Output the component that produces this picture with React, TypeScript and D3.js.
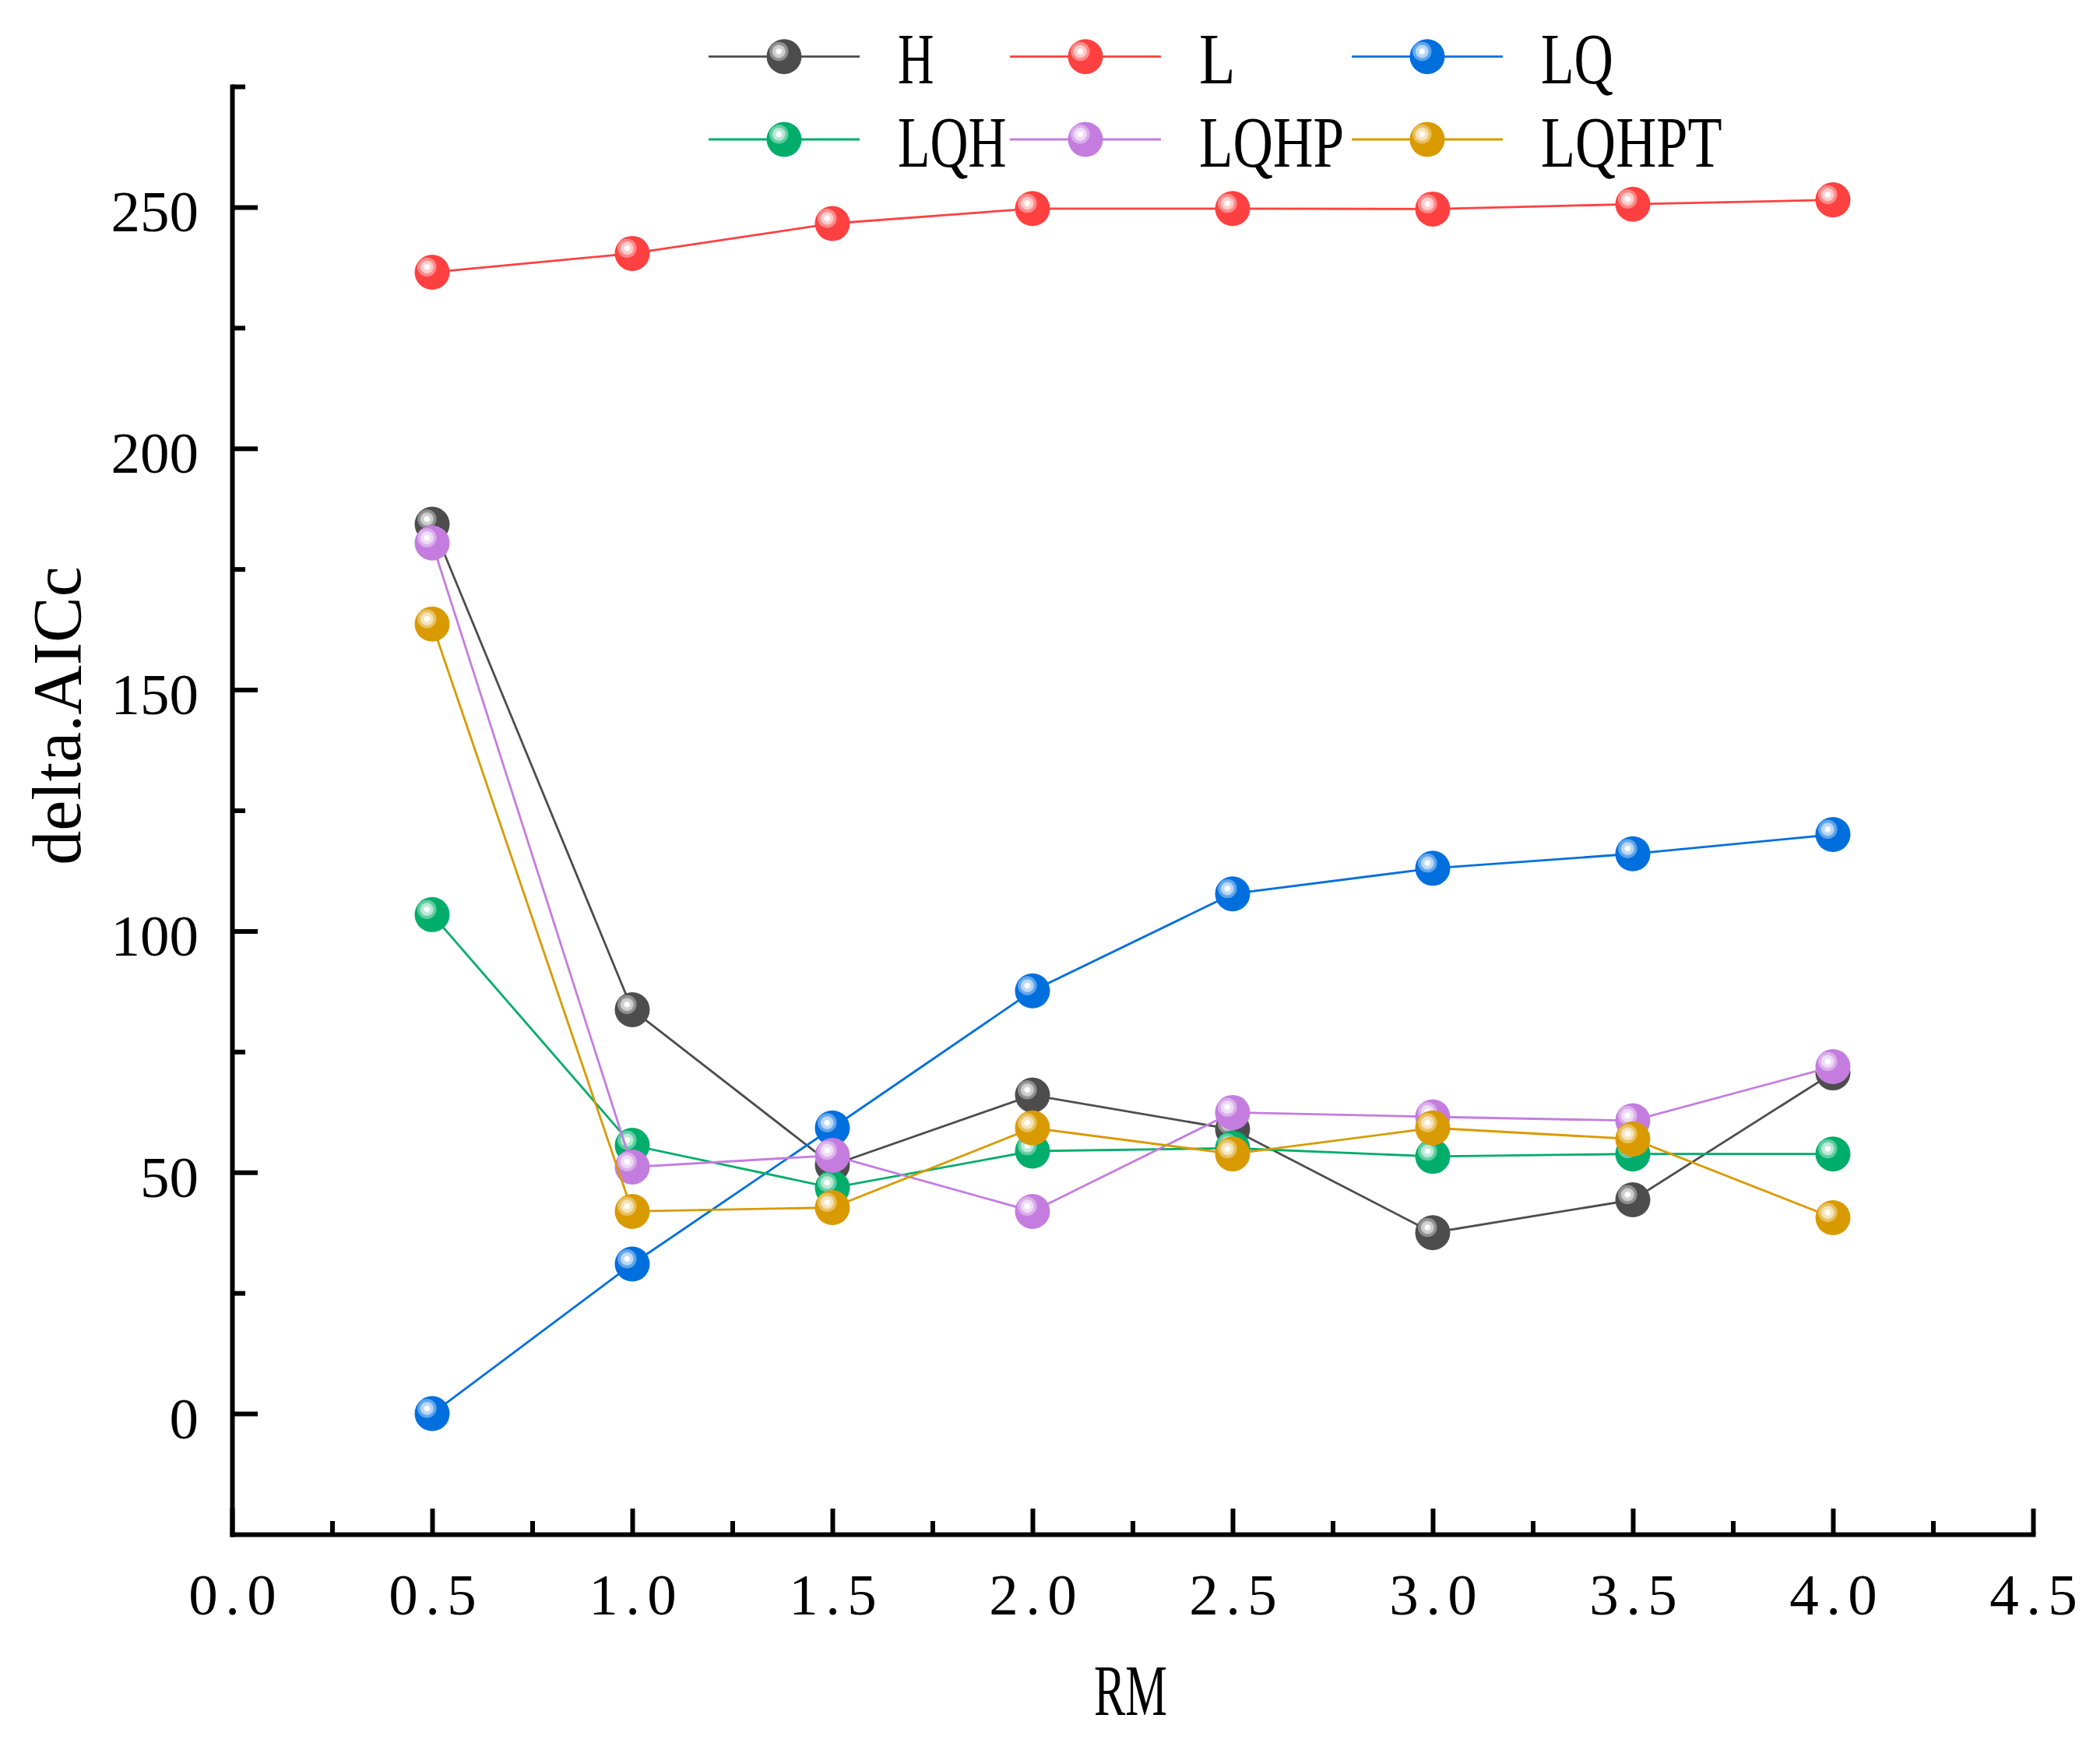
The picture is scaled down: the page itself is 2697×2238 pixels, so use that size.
import React, { useEffect, useRef } from "react";
import * as d3 from "d3";

// RM values on the x axis
const rmValues = [0.5, 1.0, 1.5, 2.0, 2.5, 3.0, 3.5, 4.0];

// delta.AICc per feature class
const seriesNames = ["H", "L", "LQ", "LQH", "LQHP", "LQHPT"];
const hValues = [184.3, 83.7, 51.5, 66.0, 58.9, 37.5, 44.3, 70.6];
const lValues = [236.5, 240.4, 246.6, 249.7, 249.7, 249.6, 250.6, 251.5];
const lqValues = [0, 31, 59.2, 87.6, 107.7, 113.0, 116.0, 120.0];
const lqhValues = [103.4, 55.6, 46.8, 54.4, 55.0, 53.3, 53.8, 53.8];
const lqhpValues = [180.4, 51.1, 53.5, 41.9, 62.4, 61.5, 60.7, 71.9];
const lqhptValues = [163.6, 41.9, 42.7, 59.2, 53.8, 59.2, 56.9, 40.6];
const seriesColors = ["#4d4d4d", "#ff4040", "#006fde", "#00ad6a", "#c47ddf", "#d99a00"];

const xTicks = [0, 0.5, 1.0, 1.5, 2.0, 2.5, 3.0, 3.5, 4.0, 4.5];
const xMinor = [0.25, 0.75, 1.25, 1.75, 2.25, 2.75, 3.25, 3.75, 4.25];
const yTicks = [0, 50, 100, 150, 200, 250];
const yMinor = [25, 75, 125, 175, 225, 275];

const W = 2697;
const H = 2238;
const FONT = "'Liberation Serif', 'Times New Roman', serif";

const App: React.FC = () => {
  const svgRef = useRef<SVGSVGElement | null>(null);

  useEffect(() => {
    const svg = d3.select(svgRef.current);
    svg.selectAll("*").remove();

    const x = d3.scaleLinear().domain([0, 4.5]).range([298, 2611]);
    const y = d3.scaleLinear().domain([-25, 275]).range([1970, 111]);

    svg.append("rect").attr("width", W).attr("height", H).attr("fill", "#ffffff");

    const allValues = [hValues, lValues, lqValues, lqhValues, lqhpValues, lqhptValues];

    // sphere highlight gradients
    const defs = svg.append("defs");
    seriesColors.forEach((c, i) => {
      const tint = d3.interpolateRgb(c, "#ffffff");
      const g = defs.append("radialGradient").attr("id", `hl-${i}`);
      const stops: [number, string, number][] = [
        [0, "#ffffff", 1],
        [0.24, "#ffffff", 1],
        [0.32, tint(0.75), 1],
        [0.6, tint(0.7), 1],
        [0.68, tint(0.4), 1],
        [0.92, tint(0.35), 1],
        [1, c, 0],
      ];
      stops.forEach(([o, col, op]) =>
        g.append("stop").attr("offset", o).attr("stop-color", col).attr("stop-opacity", op)
      );
    });

    const drawBall = (sel: d3.Selection<SVGGElement, unknown, null, undefined>, cx: number, cy: number, i: number) => {
      sel.append("circle").attr("cx", cx).attr("cy", cy).attr("r", 22.5).attr("fill", seriesColors[i]);
      sel.append("circle").attr("cx", cx - 6.7).attr("cy", cy - 6.7).attr("r", 13).attr("fill", `url(#hl-${i})`);
    };

    // x axis
    const xAxis = svg.append("g").attr("transform", `translate(0, ${y(-25)})`);
    xAxis.call(
      d3.axisBottom(x).tickValues(xTicks).tickSize(-33).tickSizeOuter(0).tickFormat(d3.format(".1f"))
    );
    xAxis.append("g").call(
      d3.axisBottom(x).tickValues(xMinor).tickSize(-17).tickSizeOuter(0).tickFormat(() => "")
    ).select(".domain").remove();
    xAxis.selectAll("text")
      .attr("y", 103)
      .attr("dy", 0)
      .attr("font-family", FONT)
      .attr("font-size", 75)
      .attr("fill", "#000")
      .attr("textLength", 112.5)
      .attr("lengthAdjust", "spacing");

    // y axis
    const yAxis = svg.append("g").attr("transform", `translate(${x(0)}, 0)`);
    yAxis.call(
      d3.axisLeft(y).tickValues(yTicks).tickSize(-33).tickSizeOuter(0).tickPadding(43).tickFormat(d3.format("d"))
    );
    yAxis.append("g").call(
      d3.axisLeft(y).tickValues(yMinor).tickSize(-17).tickSizeOuter(0).tickFormat(() => "")
    ).select(".domain").remove();
    yAxis.selectAll("text")
      .attr("dy", 31)
      .attr("font-family", FONT)
      .attr("font-size", 75)
      .attr("fill", "#000")
      .attr("textLength", (d: any) => String(d).length * 37.5)
      .attr("lengthAdjust", "spacing");

    svg.selectAll(".domain")
      .attr("stroke", "#000")
      .attr("stroke-width", 6)
      .attr("stroke-linecap", "square");
    svg.selectAll(".tick line").attr("stroke", "#000").attr("stroke-width", 6);

    // axis titles
    svg.append("text")
      .attr("transform", `translate(103, 919) rotate(-90)`)
      .attr("text-anchor", "middle")
      .attr("font-family", FONT)
      .attr("font-size", 88)
      .text("delta.AICc");

    svg.append("text")
      .attr("x", 1452)
      .attr("y", 2202)
      .attr("text-anchor", "middle")
      .attr("font-family", FONT)
      .attr("font-size", 94)
      .attr("textLength", 94)
      .attr("lengthAdjust", "spacingAndGlyphs")
      .text("RM");

    // series
    const line = d3.line<number>()
      .x((_, j) => x(rmValues[j]))
      .y((d) => y(d));

    allValues.forEach((vals, i) => {
      const g = svg.append("g");
      g.append("path")
        .attr("d", line(vals) as string)
        .attr("fill", "none")
        .attr("stroke", seriesColors[i])
        .attr("stroke-width", 2.8);
      vals.forEach((v, j) => drawBall(g as any, x(rmValues[j]), y(v), i));
    });

    // legend
    const colX = [910, 1297, 1736];
    const rowY = [72.7, 179];
    seriesNames.forEach((name, i) => {
      const cx = colX[i % 3];
      const cy = rowY[Math.floor(i / 3)];
      const g = svg.append("g");
      g.append("line")
        .attr("x1", cx).attr("x2", cx + 194)
        .attr("y1", cy).attr("y2", cy)
        .attr("stroke", seriesColors[i])
        .attr("stroke-width", 2.8);
      drawBall(g as any, cx + 97, cy, i);
      g.append("text")
        .attr("x", cx + 243)
        .attr("y", cy + 34.5)
        .attr("font-family", FONT)
        .attr("font-size", 93)
        .attr("textLength", name.length * 46.5)
        .attr("lengthAdjust", "spacingAndGlyphs")
        .text(name);
    });
  }, []);

  return (
    <svg
      ref={svgRef}
      width={W}
      height={H}
      viewBox={`0 0 ${W} ${H}`}
      style={{ position: "absolute", left: 0, top: 0, display: "block" }}
    />
  );
};

export default App;
